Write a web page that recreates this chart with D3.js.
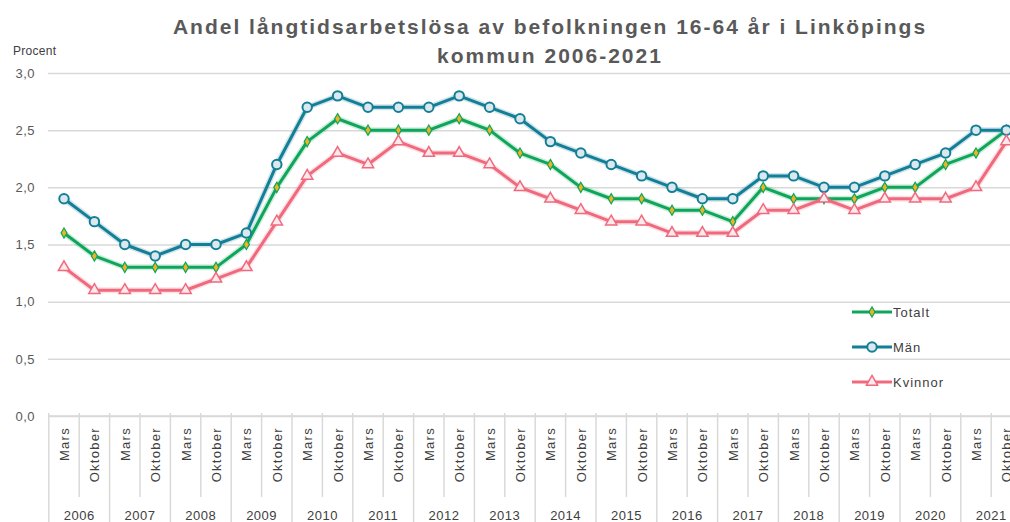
<!DOCTYPE html>
<html>
<head>
<meta charset="utf-8">
<script src="https://cdn.jsdelivr.net/npm/d3@7"></script>
<style>
  body { margin: 0; background: #fff; }
  svg { display: block; font-family: "Liberation Sans", Arial, sans-serif; }
</style>
</head>
<body>
<div id="chart"></div>
<script>
// ====================== data ======================
const years = ["2006","2007","2008","2009","2010","2011","2012","2013","2014","2015","2016","2017","2018","2019","2020","2021"];
const periods = ["Mars", "Oktober"];

const totalt  = [1.6,1.4,1.3,1.3,1.3,1.3,1.5,2.0,2.4,2.6,2.5,2.5,2.5,2.6,2.5,2.3,2.2,2.0,1.9,1.9,1.8,1.8,1.7,2.0,1.9,1.9,1.9,2.0,2.0,2.2,2.3,2.5];
const man     = [1.9,1.7,1.5,1.4,1.5,1.5,1.6,2.2,2.7,2.8,2.7,2.7,2.7,2.8,2.7,2.6,2.4,2.3,2.2,2.1,2.0,1.9,1.9,2.1,2.1,2.0,2.0,2.1,2.2,2.3,2.5,2.5];
const kvinnor = [1.3,1.1,1.1,1.1,1.1,1.2,1.3,1.7,2.1,2.3,2.2,2.4,2.3,2.3,2.2,2.0,1.9,1.8,1.7,1.7,1.6,1.6,1.6,1.8,1.8,1.9,1.8,1.9,1.9,1.9,2.0,2.4];

const yTicks = [0, 0.5, 1, 1.5, 2, 2.5, 3];

// categories: one per year and period
const cats = [];
years.forEach(y => periods.forEach(p => cats.push({ year: y, period: p, key: y + "-" + p })));

const series = [
  { name: "Totalt",  values: totalt,  color: "#0fa55a", marker: "diamond" },
  { name: "Män",     values: man,     color: "#137f96", marker: "circle" },
  { name: "Kvinnor", values: kvinnor, color: "#f06a7e", marker: "triangle" }
];

// ====================== chart ======================
const w = 1010;
const h = 522;

const svg = d3.select("#chart").append("svg")
  .attr("width", w)
  .attr("height", h);

// plot runs past the right edge, like the original crop
const xScale = d3.scaleBand()
  .domain(cats.map(d => d.key))
  .range([48.8, 48.8 + 30.4 * cats.length]);

const yScale = d3.scaleLinear()
  .domain([0, 3])
  .range([416, 73]);

const fmt = d => d3.format(".1f")(d).replace(".", ",");

// grid + y labels
const yAxisGen = d3.axisLeft(yScale)
  .tickValues(yTicks)
  .tickSize(-(w - 48))
  .tickFormat(fmt);

const yAxis = svg.append("g")
  .attr("transform", "translate(48, 0)")
  .call(yAxisGen);

yAxis.select(".domain").remove();
yAxis.selectAll(".tick line")
  .attr("stroke", "#d9d9d9")
  .attr("stroke-width", 1.5);
yAxis.selectAll(".tick text")
  .attr("x", -13)
  .attr("fill", "#595959")
  .style("font-size", "13px")
  .style("letter-spacing", "0.5px");

// x axis baseline
svg.append("line")
  .attr("x1", 48).attr("x2", w)
  .attr("y1", yScale(0)).attr("y2", yScale(0))
  .attr("stroke", "#d9d9d9").attr("stroke-width", 1.5);

// category separators
const bw = xScale.bandwidth();
cats.forEach(c => {
  const x0 = xScale(c.key);
  const isYear = c.period === "Mars";
  svg.append("line")
    .attr("x1", x0).attr("x2", x0)
    .attr("y1", yScale(0) - 3)
    .attr("y2", isYear ? h : 497)
    .attr("stroke", "#d9d9d9").attr("stroke-width", 1.5);
});

// category labels
svg.append("g").selectAll("text")
  .data(cats)
  .join("text")
  .attr("transform", d => "translate(" + (xScale(d.key) + bw / 2 + 5) + ", 427) rotate(-90)")
  .attr("text-anchor", "end")
  .attr("fill", "#404040")
  .style("font-size", "13px")
  .style("letter-spacing", "1.3px")
  .text(d => d.period);

// year labels
svg.append("g").selectAll("text")
  .data(years)
  .join("text")
  .attr("x", d => xScale(d + "-Mars") + bw)
  .attr("y", 520)
  .attr("text-anchor", "middle")
  .attr("fill", "#404040")
  .style("font-size", "13px")
  .style("letter-spacing", "0.5px")
  .text(d => d);

// lines
const lineGen = d3.line()
  .x((d, i) => xScale(cats[i].key) + bw / 2)
  .y(d => yScale(d));

const symbolFor = {
  diamond: d3.symbol().type(d3.symbolDiamond).size(30),
  circle: d3.symbol().type(d3.symbolCircle).size(70),
  triangle: d3.symbol().type(d3.symbolTriangle).size(55)
};

const drawMarker = (g, s, x, y) => {
  const m = g.append("path")
    .attr("d", symbolFor[s.marker]())
    .attr("transform", "translate(" + x + "," + y + ")")
    .attr("stroke-width", 1.5);
  if (s.marker === "diamond") m.attr("fill", "#f0b323").attr("stroke", s.color).attr("stroke-width", 1.2);
  if (s.marker === "circle") m.attr("fill", "#dbe8ee").attr("stroke", s.color).attr("stroke-width", 2);
  if (s.marker === "triangle") m.attr("fill", "#fde8eb").attr("stroke", s.color);
  return m;
};

series.forEach(s => {
  const g = svg.append("g");
  g.append("path")
    .attr("d", lineGen(s.values))
    .attr("fill", "none")
    .attr("stroke", s.color)
    .attr("stroke-opacity", 0.2)
    .attr("stroke-width", 6);
  g.append("path")
    .attr("d", lineGen(s.values))
    .attr("fill", "none")
    .attr("stroke", s.color)
    .attr("stroke-width", 3)
    .attr("stroke-linejoin", "round");
  s.values.forEach((v, i) => drawMarker(g, s, xScale(cats[i].key) + bw / 2, yScale(v)));
});

// legend
const legendY = [312, 347, 382];
series.forEach((s, i) => {
  const g = svg.append("g").attr("transform", "translate(852," + legendY[i] + ")");
  g.append("line")
    .attr("x1", 0).attr("x2", 40)
    .attr("stroke", s.color).attr("stroke-width", 3);
  drawMarker(g, s, 20, 0);
  g.append("text")
    .attr("x", 41)
    .attr("y", 5)
    .attr("fill", "#404040")
    .style("font-size", "13px")
    .style("letter-spacing", "1px")
    .text(s.name);
});

// titles
svg.append("text")
  .attr("x", 13).attr("y", 55)
  .attr("fill", "#404040")
  .style("font-size", "12px")
  .style("letter-spacing", "0.3px")
  .text("Procent");

const title = svg.append("text")
  .attr("text-anchor", "middle")
  .attr("fill", "#595959")
  .style("font-size", "21px")
  .style("font-weight", "bold")
  .style("letter-spacing", "2px");
title.append("tspan").attr("x", 550).attr("y", 34)
  .text("Andel långtidsarbetslösa av befolkningen 16-64 år i Linköpings");
title.append("tspan").attr("x", 550).attr("y", 63)
  .text("kommun 2006-2021");
</script>
</body>
</html>
